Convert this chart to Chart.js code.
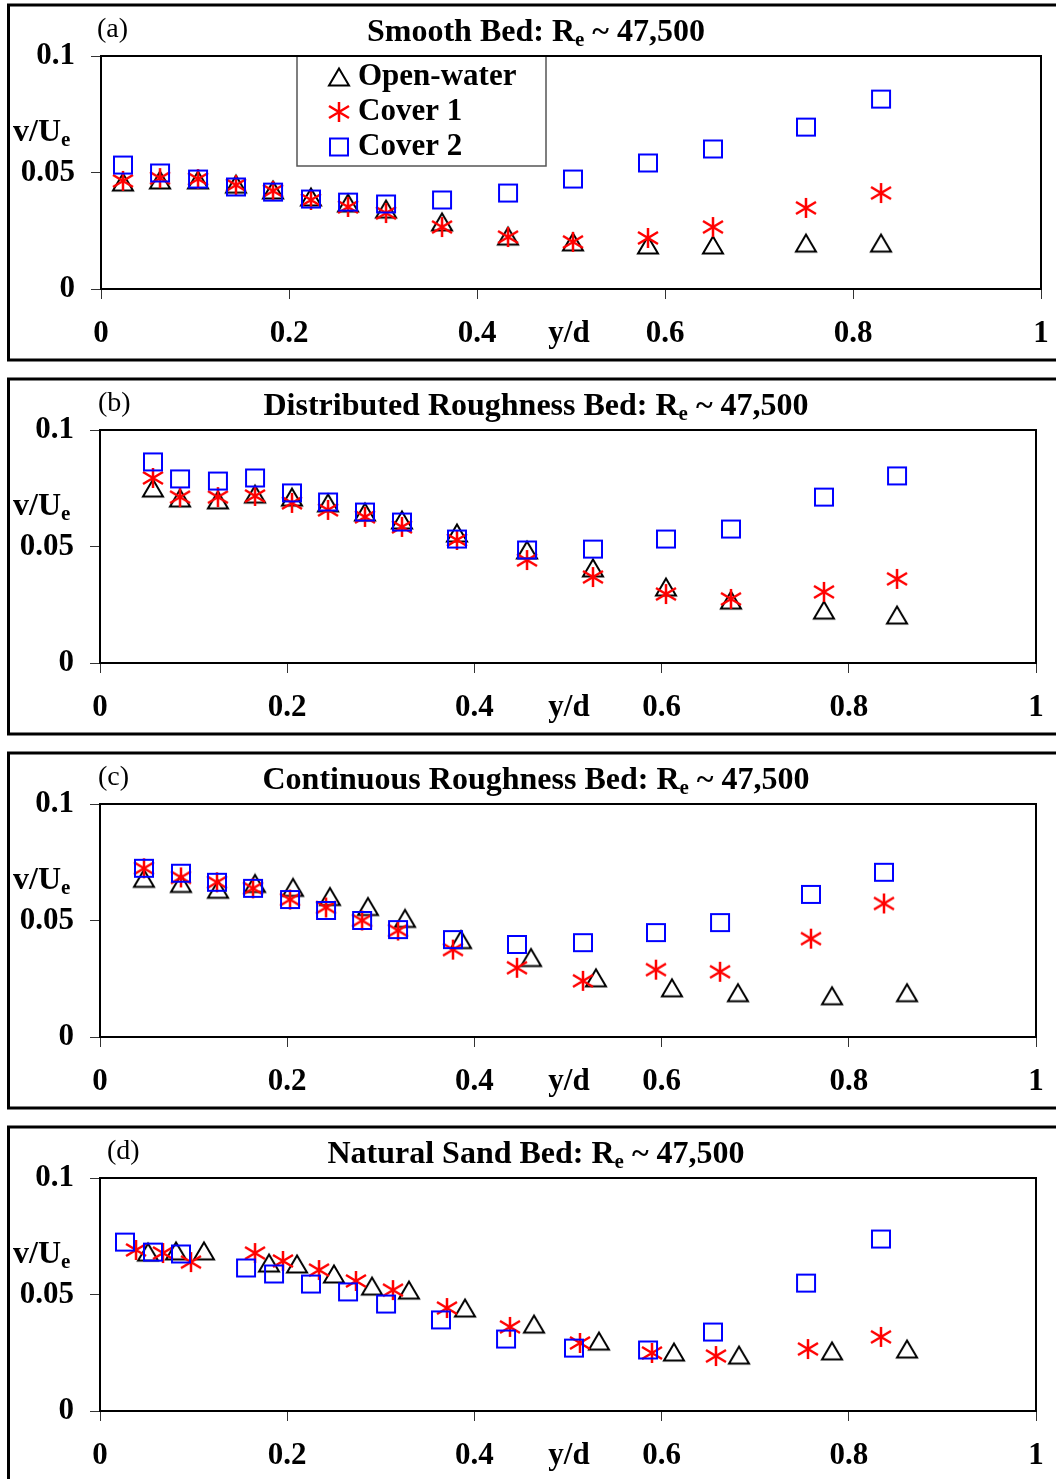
<!DOCTYPE html>
<html>
<head>
<meta charset="utf-8">
<title>Vertical turbulence intensity profiles</title>
<script src="https://cdn.jsdelivr.net/npm/chart.js@4/dist/chart.umd.min.js"></script>
<style>
  html, body { margin: 0; padding: 0; background: #fff; }
  body { width: 1056px; height: 1479px; overflow: hidden; position: relative; }
  canvas { position: absolute; left: 0; }
</style>
</head>
<body>
<canvas id="panelA" width="1056" height="370" style="top:0px"></canvas>
<canvas id="panelB" width="1056" height="370" style="top:374px"></canvas>
<canvas id="panelC" width="1056" height="370" style="top:748px"></canvas>
<canvas id="panelD" width="1056" height="370" style="top:1122px"></canvas>
<script>
// ---- axis ticks ----
const xTickValues = [0, 0.2, 0.4, 0.6, 0.8, 1];
const xTickLabels = ['0', '0.2', '0.4', '0.6', '0.8', '1'];
const yTickValues = [0, 0.05, 0.1];
const yTickLabels = ['0', '0.05', '0.1'];

// ---- series / panel names ----
const seriesNames = ['Open-water', 'Cover 1', 'Cover 2'];
const panelTags = ['(a)', '(b)', '(c)', '(d)'];
const bedNames = ['Smooth Bed', 'Distributed Roughness Bed', 'Continuous Roughness Bed', 'Natural Sand Bed'];
const reynolds = '47,500';

// ---- (a) smooth bed: y/d and v/Ue ----
const smoothYd     = [0.0234, 0.0628, 0.1032, 0.1436, 0.183, 0.2234, 0.2628, 0.3032, 0.3628, 0.433, 0.5021, 0.5819, 0.651, 0.75, 0.8298];
const smoothOpen   = [0.0459, 0.0468, 0.0468, 0.045, 0.0425, 0.0395, 0.0369, 0.0343, 0.0288, 0.0227, 0.0202, 0.0189, 0.0189, 0.0197, 0.0197];
const smoothCover1 = [0.0464, 0.0476, 0.0472, 0.0446, 0.0421, 0.0382, 0.0352, 0.0326, 0.0266, 0.0223, 0.0202, 0.0219, 0.0266, 0.0348, 0.0412];
const smoothCover2 = [0.0532, 0.0498, 0.0472, 0.0438, 0.0416, 0.0386, 0.0373, 0.0365, 0.0382, 0.0412, 0.0472, 0.0541, 0.0601, 0.0695, 0.0815];

// ---- (b) distributed roughness bed ----
const distYd     = [0.0566, 0.0855, 0.126, 0.1656, 0.2051, 0.2436, 0.2831, 0.3226, 0.3814, 0.4562, 0.5267, 0.6047, 0.6741, 0.7735, 0.8515];
const distOpen   = [0.0751, 0.0708, 0.07, 0.0725, 0.0712, 0.0687, 0.0648, 0.0614, 0.0558, 0.0485, 0.0408, 0.0326, 0.027, 0.0227, 0.0206];
const distCover1 = [0.0794, 0.0712, 0.0712, 0.0717, 0.0687, 0.0657, 0.0627, 0.0584, 0.0528, 0.0442, 0.0369, 0.0296, 0.0275, 0.0305, 0.0361];
const distCover2 = [0.0863, 0.079, 0.0781, 0.0794, 0.073, 0.0691, 0.0648, 0.0605, 0.0532, 0.0485, 0.0489, 0.0532, 0.0575, 0.0712, 0.0803];

// ---- (c) continuous roughness bed ----
const contOpenYd  = [0.047, 0.0865, 0.1261, 0.1656, 0.2062, 0.2457, 0.2863, 0.3259, 0.3857, 0.4605, 0.5299, 0.6111, 0.6816, 0.7821, 0.8622];
const contOpen    = [0.0681, 0.0659, 0.0634, 0.0659, 0.0642, 0.0603, 0.056, 0.0509, 0.0418, 0.0341, 0.0254, 0.0211, 0.019, 0.0177, 0.019];
const contCoverYd = [0.047, 0.0865, 0.125, 0.1635, 0.203, 0.2415, 0.28, 0.3184, 0.3771, 0.4455, 0.516, 0.594, 0.6624, 0.7596, 0.8376];
const contCover1  = [0.0724, 0.0685, 0.0664, 0.0638, 0.059, 0.0556, 0.05, 0.0457, 0.0375, 0.0297, 0.0241, 0.0289, 0.028, 0.0422, 0.0573];
const contCover2  = [0.0724, 0.0703, 0.0664, 0.0638, 0.059, 0.0543, 0.05, 0.0461, 0.0418, 0.0397, 0.0405, 0.0448, 0.0491, 0.0612, 0.0707];

// ---- (d) natural sand bed ----
const sandOpenYd   = [0.0513, 0.0812, 0.1111, 0.1806, 0.2105, 0.25, 0.2906, 0.3301, 0.39, 0.4637, 0.5331, 0.6132, 0.6827, 0.7821, 0.8622];
const sandOpen     = [0.0682, 0.0687, 0.0687, 0.0635, 0.0631, 0.0588, 0.0536, 0.0519, 0.0442, 0.0373, 0.03, 0.0253, 0.024, 0.0258, 0.0266];
const sandCover1Yd = [0.0385, 0.0673, 0.0972, 0.1656, 0.1955, 0.234, 0.2735, 0.313, 0.3707, 0.438, 0.5128, 0.5897, 0.6581, 0.7564, 0.8344];
const sandCover1   = [0.0691, 0.0678, 0.0639, 0.0678, 0.0644, 0.0605, 0.0558, 0.0519, 0.0442, 0.0361, 0.0292, 0.0249, 0.0236, 0.0266, 0.0318];
const sandCover2Yd = [0.0267, 0.0566, 0.0865, 0.156, 0.1859, 0.2254, 0.265, 0.3056, 0.3643, 0.4338, 0.5064, 0.5855, 0.6549, 0.7543, 0.8344];
const sandCover2   = [0.0725, 0.0682, 0.0674, 0.0614, 0.0588, 0.0545, 0.0511, 0.0459, 0.0391, 0.0309, 0.027, 0.0262, 0.0339, 0.0549, 0.0738];

const FONT = "'Liberation Serif', 'Times New Roman', Times, serif";
const CANVAS_W = 1056, CANVAS_H = 370;
const PLOT_TOP = 56, PLOT_BOTTOM = 289;

// marker bitmaps: open triangle, asterisk, open square
function makeMarker(kind) {
  const c = document.createElement('canvas');
  const g = c.getContext('2d');
  if (kind === 'triangle') {
    c.width = 24; c.height = 22;
    g.strokeStyle = '#000'; g.lineWidth = 2;
    g.beginPath(); g.moveTo(12, 2.5); g.lineTo(22, 19.5); g.lineTo(2, 19.5); g.closePath(); g.stroke();
  } else if (kind === 'square') {
    c.width = 22; c.height = 21;
    g.strokeStyle = '#0000ff'; g.lineWidth = 2;
    g.strokeRect(2, 2, 18, 17);
  } else {
    c.width = 24; c.height = 24;
    g.strokeStyle = '#ff0000'; g.lineWidth = 2.5;
    g.beginPath();
    g.moveTo(12, 2); g.lineTo(12, 22);
    g.moveTo(2, 6); g.lineTo(22, 18);
    g.moveTo(2, 18); g.lineTo(22, 6);
    g.stroke();
  }
  return c;
}
const markers = [makeMarker('triangle'), makeMarker('asterisk'), makeMarker('square')];
const seriesColors = ['#000000', '#ff0000', '#0000ff'];

const panels = [
  { canvas: 'panelA', tag: panelTags[0], bed: bedNames[0], xs: [smoothYd, smoothYd, smoothYd], vs: [smoothOpen, smoothCover1, smoothCover2], legend: true,  plotLeft: 101, plotRight: 1041, tagX: 97 },
  { canvas: 'panelB', tag: panelTags[1], bed: bedNames[1], xs: [distYd, distYd, distYd],       vs: [distOpen, distCover1, distCover2],       legend: false, plotLeft: 100, plotRight: 1036, tagX: 98 },
  { canvas: 'panelC', tag: panelTags[2], bed: bedNames[2], xs: [contOpenYd, contCoverYd, contCoverYd], vs: [contOpen, contCover1, contCover2], legend: false, plotLeft: 100, plotRight: 1036, tagX: 98 },
  { canvas: 'panelD', tag: panelTags[3], bed: bedNames[3], xs: [sandOpenYd, sandCover1Yd, sandCover2Yd], vs: [sandOpen, sandCover1, sandCover2], legend: false, plotLeft: 100, plotRight: 1036, tagX: 107 }
];

// text with a subscripted run, e.g. R with subscript e
function drawRich(ctx, parts, x, y, align) {
  const big = 'bold 32px ' + FONT, small = 'bold 21px ' + FONT;
  let w = 0;
  parts.forEach(([t, sub]) => { ctx.font = sub ? small : big; w += ctx.measureText(t).width; });
  let cx = align === 'center' ? x - w / 2 : x;
  ctx.textAlign = 'left';
  ctx.textBaseline = 'alphabetic';
  parts.forEach(([t, sub]) => {
    ctx.font = sub ? small : big;
    ctx.fillText(t, cx, sub ? y + 5 : y);
    cx += ctx.measureText(t).width;
  });
}

const panelDecor = {
  id: 'panelDecor',
  afterDraw(chart, args, opts) {
    const ctx = chart.ctx, a = chart.chartArea;
    ctx.save();
    ctx.fillStyle = '#000';

    // outer panel frame (open to the right edge)
    ctx.strokeStyle = '#000';
    ctx.lineWidth = 3;
    ctx.beginPath();
    ctx.moveTo(1080, 5); ctx.lineTo(8.5, 5); ctx.lineTo(8.5, 360); ctx.lineTo(1080, 360);
    ctx.stroke();

    // legend box
    if (opts.legend) {
      const lx = 297, ly = 56, lw = 249, lh = 110;
      ctx.fillStyle = '#fff';
      ctx.fillRect(lx, ly, lw, lh);
      ctx.strokeStyle = '#555';
      ctx.lineWidth = 1.5;
      ctx.strokeRect(lx, ly, lw, lh);
      ctx.fillStyle = '#000';
      ctx.font = 'bold 31px ' + FONT;
      ctx.textAlign = 'left';
      ctx.textBaseline = 'middle';
      chart.data.datasets.forEach((ds, i) => {
        const rowY = 77 + i * 35;
        const img = ds.pointStyle;
        ctx.drawImage(img, 339 - img.width / 2, rowY - img.height / 2);
        ctx.fillText(ds.label, 358, rowY);
      });
    }

    // plot area box
    ctx.strokeStyle = '#000';
    ctx.lineWidth = 2;
    ctx.strokeRect(a.left, a.top, a.right - a.left, a.bottom - a.top);

    // panel tag and title
    ctx.fillStyle = '#000';
    ctx.font = '28px ' + FONT;
    ctx.textAlign = 'left';
    ctx.textBaseline = 'alphabetic';
    ctx.fillText(opts.tag, opts.tagX, 37);
    drawRich(ctx, [[opts.bed + ': R', false], ['e', true], [' ~ ' + reynolds, false]], 536, 41, 'center');

    // axis titles
    drawRich(ctx, [['v/U', false], ['e', true]], 13, 141, 'left');
    ctx.font = 'bold 31px ' + FONT;
    ctx.textAlign = 'center';
    ctx.textBaseline = 'middle';
    ctx.fillText('y/d', 569, 334);
    ctx.restore();
  }
};

const tickFont = { family: FONT, size: 31, weight: 'bold', lineHeight: 1.2 };

// keep the plot area fixed: axes get a set thickness and no label overhang padding
function fixX(s) { s.height = CANVAS_H - PLOT_BOTTOM; s.paddingLeft = 0; s.paddingRight = 0; }
function fixY(width) { return s => { s.width = width; s.paddingTop = 0; s.paddingBottom = 0; }; }

panels.forEach(p => {
  const datasets = seriesNames.map((name, s) => ({
    label: name,
    data: p.xs[s].map((x, i) => ({ x: x, y: p.vs[s][i] })),
    pointStyle: markers[s],
    borderColor: seriesColors[s],
    backgroundColor: 'transparent',
    pointRadius: 10,
    showLine: false,
    order: 3 - s
  }));

  new Chart(document.getElementById(p.canvas), {
    type: 'scatter',
    data: { datasets: datasets },
    plugins: [panelDecor],
    options: {
      responsive: false,
      animation: false,
      devicePixelRatio: 1,
      events: [],
      layout: { padding: { top: PLOT_TOP, left: 0, right: CANVAS_W - p.plotRight, bottom: 0 } },
      scales: {
        x: {
          type: 'linear',
          min: 0, max: 1,
          afterBuildTicks: s => { s.ticks = xTickValues.map(v => ({ value: v })); },
          afterFit: fixX,
          ticks: {
            autoSkip: false, maxRotation: 0, minRotation: 0,
            padding: 16, color: '#000', font: tickFont,
            callback: (v, i) => xTickLabels[i]
          },
          grid: { drawOnChartArea: false, drawTicks: true, tickLength: 10, color: '#333', lineWidth: 1 },
          border: { display: false }
        },
        y: {
          type: 'linear',
          min: 0, max: 0.1,
          afterBuildTicks: s => { s.ticks = yTickValues.map(v => ({ value: v })); },
          afterFit: fixY(p.plotLeft),
          ticks: {
            autoSkip: false,
            padding: 16, color: '#000', font: tickFont,
            callback: (v, i) => yTickLabels[i]
          },
          grid: { drawOnChartArea: false, drawTicks: true, tickLength: 10, color: '#333', lineWidth: 1 },
          border: { display: false }
        }
      },
      plugins: {
        legend: { display: false },
        tooltip: { enabled: false },
        panelDecor: { legend: p.legend, tag: p.tag, tagX: p.tagX, bed: p.bed }
      }
    }
  });
});
</script>
</body>
</html>
